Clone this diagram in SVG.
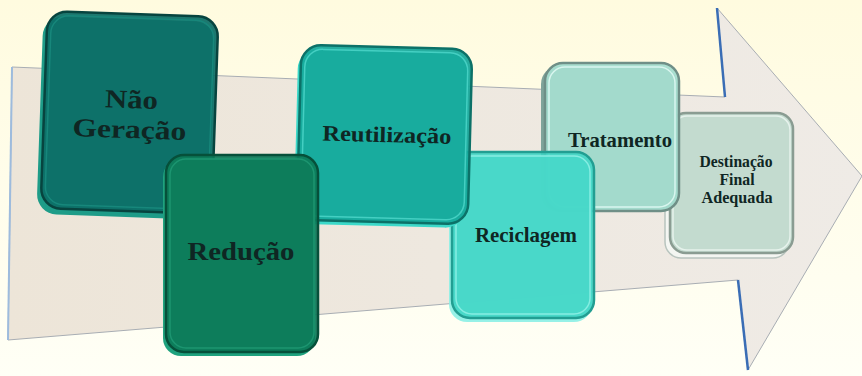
<svg xmlns="http://www.w3.org/2000/svg" width="862" height="376" viewBox="0 0 862 376">
<defs>
<linearGradient id="bg" x1="0" y1="0" x2="0" y2="1">
<stop offset="0" stop-color="#FFFBDF"/>
<stop offset="1" stop-color="#FFFFF6"/>
</linearGradient>
<linearGradient id="arrowFill" x1="0" y1="0" x2="1" y2="0">
<stop offset="0" stop-color="#EDE5D8"/>
<stop offset="1" stop-color="#EFEBE6"/>
</linearGradient>
<style>
.lbl{font-family:"Liberation Serif","Times New Roman",serif;font-weight:bold;fill:#0F2623;text-anchor:middle}
.face{stroke-width:2.5}
.hl{fill:none;stroke-width:1.5}
</style>
</defs>
<rect width="862" height="376" fill="url(#bg)"/>
<g id="arrow">
<path d="M12,67 L725,97 L717,8 L862,176 L748,370 L738,280 L8,340 Z" fill="url(#arrowFill)" stroke="#A8ADB3" stroke-width="1"/>
<line x1="12" y1="67" x2="8" y2="340" stroke="#9DBBDD" stroke-width="2"/>
<line x1="717" y1="8" x2="725" y2="97" stroke="#3A6DB5" stroke-width="2.5"/>
<line x1="738" y1="280" x2="748" y2="370" stroke="#3A6DB5" stroke-width="2.5"/>
</g>
<g id="node-destinacao">
<rect x="665" y="118" width="124" height="140" rx="16" fill="#F4F6F2" stroke="#B8C4BE" stroke-width="1.5"/>
<rect class="face" x="670" y="113" width="123" height="140" rx="16" fill="#C3DBCF" stroke="#8A9C92"/>
<rect class="hl" x="673" y="116" width="117" height="134" rx="14" stroke="#E6F2EC"/>
<text class="lbl" x="736" y="167" font-size="16" textLength="73" lengthAdjust="spacingAndGlyphs">Destinação</text>
<text class="lbl" x="737" y="185" font-size="16" textLength="35" lengthAdjust="spacingAndGlyphs">Final</text>
<text class="lbl" x="737" y="203" font-size="16" textLength="71" lengthAdjust="spacingAndGlyphs">Adequada</text>
</g>
<g id="node-tratamento">
<rect x="541" y="66" width="136" height="146" rx="18" fill="#7FA39A"/>
<rect class="face" x="545" y="63" width="134" height="148" rx="18" fill="#A5DDCF" fill-opacity="0.95" stroke="#6F8F87"/>
<rect class="hl" x="549" y="67" width="126" height="140" rx="16" stroke="#D9F6EF"/>
<text class="lbl" x="620" y="147" font-size="21" textLength="104" lengthAdjust="spacingAndGlyphs">Tratamento</text>
</g>
<g id="node-reciclagem">
<rect x="449" y="156" width="143" height="166" rx="18" fill="#8CF0E6" fill-opacity="0.9"/>
<rect class="face" x="452" y="152" width="142" height="166" rx="18" fill="#3FD5C5" fill-opacity="0.88" stroke="#229E92"/>
<rect class="hl" x="456" y="156" width="134" height="158" rx="16" stroke="#86EDE2"/>
<text class="lbl" x="526" y="242" font-size="21" textLength="102" lengthAdjust="spacingAndGlyphs">Reciclagem</text>
</g>
<g id="node-reutilizacao" transform="rotate(1.5 384 135)">
<rect x="296" y="51" width="171" height="175" rx="20" fill="#3CD9C9"/>
<rect class="face" x="299" y="47" width="171" height="175" rx="20" fill="#16A89B" fill-opacity="0.93" stroke="#0C7168"/>
<rect class="hl" x="303" y="51" width="163" height="167" rx="18" stroke="#44CFC2"/>
<text class="lbl" x="387" y="142" font-size="22" textLength="129" lengthAdjust="spacingAndGlyphs">Reutilização</text>
</g>
<g id="node-nao-geracao" transform="rotate(2 129 113)">
<rect x="40" y="19" width="172" height="198" rx="20" fill="#1E9C88"/>
<rect class="face" x="44" y="14" width="171" height="197" rx="20" fill="#0C6E66" fill-opacity="0.93" stroke="#07443F"/>
<rect class="hl" x="48" y="18" width="163" height="189" rx="18" stroke="#17877B"/>
<text class="lbl" x="131" y="108" font-size="26" textLength="53" lengthAdjust="spacingAndGlyphs">Não</text>
<text class="lbl" x="130" y="138" font-size="26" textLength="114" lengthAdjust="spacingAndGlyphs">Geração</text>
</g>
<g id="node-reducao">
<rect x="163" y="159" width="152" height="197" rx="18" fill="#1FA27E"/>
<rect class="face" x="166" y="155" width="152" height="197" rx="18" fill="#0C7A58" fill-opacity="0.92" stroke="#06503A"/>
<rect class="hl" x="170" y="159" width="144" height="189" rx="16" stroke="#1C9570"/>
<text class="lbl" x="241" y="260" font-size="25" textLength="107" lengthAdjust="spacingAndGlyphs">Redução</text>
</g>
<g id="connectors"></g>
</svg>
